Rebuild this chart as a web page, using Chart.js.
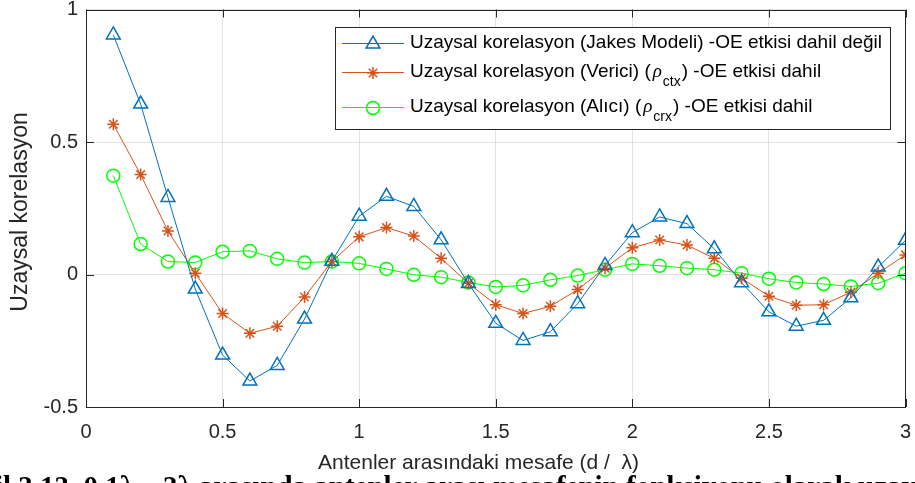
<!DOCTYPE html>
<html>
<head>
<meta charset="utf-8">
<script src="https://cdn.jsdelivr.net/npm/chart.js@4/dist/chart.umd.min.js"></script>
<style>
  html, body { margin: 0; padding: 0; background: #ffffff; }
  #wrap { width: 915px; height: 483px; position: relative; }
</style>
</head>
<body>
<div id="wrap"><canvas id="c" width="915" height="483"></canvas></div>
<script>
// ---- data ----
const distances = [0.1, 0.2, 0.3, 0.4, 0.5, 0.6, 0.7, 0.8, 0.9, 1.0,
                   1.1, 1.2, 1.3, 1.4, 1.5, 1.6, 1.7, 1.8, 1.9, 2.0,
                   2.1, 2.2, 2.3, 2.4, 2.5, 2.6, 2.7, 2.8, 2.9, 3.0];
const jakesValues = [0.904, 0.643, 0.291, -0.055, -0.304, -0.402, -0.343, -0.168, 0.050, 0.220,
                     0.295, 0.257, 0.131, -0.034, -0.184, -0.249, -0.216, -0.110, 0.034, 0.158,
                     0.217, 0.192, 0.097, -0.031, -0.141, -0.195, -0.173, -0.088, 0.028, 0.129];
const vericiValues = [0.567, 0.377, 0.164, 0.005, -0.147, -0.222, -0.195, -0.085, 0.049, 0.142,
                      0.177, 0.145, 0.061, -0.033, -0.114, -0.147, -0.120, -0.057, 0.024, 0.101,
                      0.130, 0.111, 0.061, -0.014, -0.082, -0.116, -0.114, -0.067, 0.005, 0.074];
const aliciValues = [0.373, 0.115, 0.049, 0.045, 0.086, 0.089, 0.059, 0.045, 0.049, 0.042,
                     0.021, -0.001, -0.010, -0.030, -0.047, -0.041, -0.020, -0.004, 0.018, 0.040,
                     0.033, 0.024, 0.018, 0.005, -0.016, -0.030, -0.036, -0.045, -0.033, 0.005];
const xTickValues = [0, 0.5, 1, 1.5, 2, 2.5, 3];
const xTickLabels = ['0', '0.5', '1', '1.5', '2', '2.5', '3'];
const yTickValues = [-0.5, 0, 0.5, 1];
const yTickLabels = ['-0.5', '0', '0.5', '1'];
const seriesNames = [
  {pre: 'Uzaysal korelasyon (Jakes Modeli) -OE etkisi dahil değil', sub: null, post: ''},
  {pre: 'Uzaysal korelasyon (Verici) (', sub: 'ctx', post: ') -OE etkisi dahil'},
  {pre: 'Uzaysal korelasyon (Alıcı) (', sub: 'crx', post: ') -OE etkisi dahil'}
];
const xTitle = 'Antenler arasındaki mesafe (d /  λ)';
const yTitle = 'Uzaysal korelasyon';
const captionText = 'Şekil 3.13. 0.1λ – 3λ arasında antenler arası mesafenin fonksiyonu olarak uzaysal korelasyonun değişimi';

const BLUE = '#0072BD', ORANGE = '#D95319', GREEN = '#00FF00';
const AXIS = '#262626';
const FONT = '"Liberation Sans", Arial, Helvetica, sans-serif';

function pts(vals) { return distances.map((d, i) => ({x: d, y: vals[i]})); }

const styles = [
  {color: BLUE, pointStyle: 'triangle', radius: 8},
  {color: ORANGE, pointStyle: 'star', radius: 6},
  {color: GREEN, pointStyle: 'circle', radius: 6.5}
];

function drawMarker(ctx, st, x, y) {
  ctx.save();
  ctx.strokeStyle = st.color;
  ctx.fillStyle = 'rgba(0,0,0,0)';
  ctx.lineWidth = 1.5;
  if (Chart.helpers && Chart.helpers.drawPoint) {
    Chart.helpers.drawPoint(ctx, {pointStyle: st.pointStyle, radius: st.radius, rotation: 0, borderWidth: 1.5}, x, y);
  }
  ctx.restore();
}

const decorPlugin = {
  id: 'decor',
  afterDatasetsDraw(chart) {
    const ctx = chart.ctx;
    const a = chart.chartArea;
    const xs = chart.scales.x, ys = chart.scales.y;
    ctx.save();
    // box
    ctx.strokeStyle = AXIS;
    ctx.lineWidth = 1;
    ctx.strokeRect(Math.round(a.left) + 0.5, Math.round(a.top) + 0.5,
                   Math.round(a.right - a.left) - 1, Math.round(a.bottom - a.top) - 1);
    // inward ticks
    const TL = 8;
    ctx.beginPath();
    xTickValues.forEach(v => {
      const px = Math.round(xs.getPixelForValue(v)) + 0.5;
      ctx.moveTo(px, a.bottom); ctx.lineTo(px, a.bottom - TL);
      ctx.moveTo(px, a.top); ctx.lineTo(px, a.top + TL);
    });
    yTickValues.forEach(v => {
      const py = Math.round(ys.getPixelForValue(v)) + 0.5;
      ctx.moveTo(a.left, py); ctx.lineTo(a.left + TL, py);
      ctx.moveTo(a.right, py); ctx.lineTo(a.right - TL, py);
    });
    ctx.stroke();

    // legend
    const L = {x: 335, y: 27, w: 555, h: 102};
    ctx.fillStyle = '#ffffff';
    ctx.fillRect(L.x, L.y, L.w, L.h);
    ctx.strokeStyle = AXIS;
    ctx.lineWidth = 1;
    ctx.strokeRect(L.x + 0.5, L.y + 0.5, L.w, L.h);
    const rowsY = [43, 72, 107];
    ctx.textBaseline = 'middle';
    seriesNames.forEach((s, i) => {
      const st = styles[i];
      const yy = rowsY[i];
      ctx.strokeStyle = st.color;
      ctx.lineWidth = 1;
      ctx.beginPath();
      ctx.moveTo(342, yy + 0.5); ctx.lineTo(404, yy + 0.5);
      ctx.stroke();
      drawMarker(ctx, st, 373, yy + 1);
      ctx.fillStyle = '#000000';
      ctx.textAlign = 'left';
      ctx.font = '19px ' + FONT;
      let tx = 410;
      ctx.fillText(s.pre, tx, yy);
      tx += ctx.measureText(s.pre).width;
      if (s.sub) {
        ctx.font = 'italic 19px "Liberation Serif", "Times New Roman", serif';
        ctx.fillText('ρ', tx + 2, yy);
        tx += ctx.measureText('ρ').width + 3;
        ctx.font = '14px ' + FONT;
        ctx.fillText(s.sub, tx, yy + 10);
        tx += ctx.measureText(s.sub).width + 1;
        ctx.font = '19px ' + FONT;
        ctx.fillText(s.post, tx, yy);
      }
    });

    // axis titles
    ctx.fillStyle = AXIS;
    ctx.font = '21px ' + FONT;
    ctx.textAlign = 'left';
    ctx.textBaseline = 'middle';
    ctx.fillText(xTitle, 318, 463);
    ctx.save();
    ctx.font = '23px ' + FONT;
    ctx.textAlign = 'center';
    ctx.translate(21, 212);
    ctx.rotate(-Math.PI / 2);
    ctx.fillText(yTitle, 0, 0);
    ctx.restore();

    // cropped caption at the very bottom
    ctx.fillStyle = '#000000';
    ctx.font = 'bold 29px "Liberation Serif", "Times New Roman", serif';
    ctx.textAlign = 'left';
    ctx.textBaseline = 'alphabetic';
    const skip = ctx.measureText('Şeki').width;
    ctx.fillText(captionText, 3 - skip, 496);
    ctx.restore();
  }
};

const datasets = [jakesValues, vericiValues, aliciValues].map((vals, i) => ({
  label: seriesNames[i].pre + (seriesNames[i].sub ? 'ρ' + seriesNames[i].sub + seriesNames[i].post : ''),
  data: pts(vals),
  borderColor: styles[i].color,
  backgroundColor: 'rgba(0,0,0,0)',
  borderWidth: 1,
  pointStyle: styles[i].pointStyle,
  pointRadius: styles[i].radius,
  pointBorderWidth: 1.5,
  pointBorderColor: styles[i].color,
  pointBackgroundColor: 'rgba(0,0,0,0)',
  tension: 0,
  clip: 0
}));

new Chart(document.getElementById('c'), {
  type: 'line',
  data: {datasets},
  options: {
    responsive: false,
    animation: false,
    events: [],
    layout: {padding: {left: 0, right: 4, top: 6, bottom: 0}},
    plugins: {legend: {display: false}, tooltip: {enabled: false}},
    scales: {
      x: {
        type: 'linear', min: 0, max: 3,
        afterBuildTicks(s) { s.ticks = xTickValues.map(v => ({value: v})); },
        afterFit(s) { s.height = 76; s.paddingLeft = 0; s.paddingRight = 0; },
        grid: {color: 'rgba(38,38,38,0.13)', drawTicks: false, lineWidth: 1},
        border: {display: false},
        ticks: {
          padding: 13, color: AXIS, font: {family: FONT, size: 20},
          maxRotation: 0,
          callback(v) { const k = xTickValues.indexOf(v); return k >= 0 ? xTickLabels[k] : ''; }
        }
      },
      y: {
        type: 'linear', min: -0.5, max: 1,
        afterBuildTicks(s) { s.ticks = yTickValues.map(v => ({value: v})); },
        afterFit(s) { s.width = 86; s.paddingTop = 0; s.paddingBottom = 0; },
        grid: {color: 'rgba(38,38,38,0.13)', drawTicks: false, lineWidth: 1},
        border: {display: false},
        ticks: {
          padding: 8, color: AXIS, font: {family: FONT, size: 20},
          callback(v) { const k = yTickValues.indexOf(v); return k >= 0 ? yTickLabels[k] : ''; }
        }
      }
    }
  },
  plugins: [decorPlugin]
});
</script>
</body>
</html>
